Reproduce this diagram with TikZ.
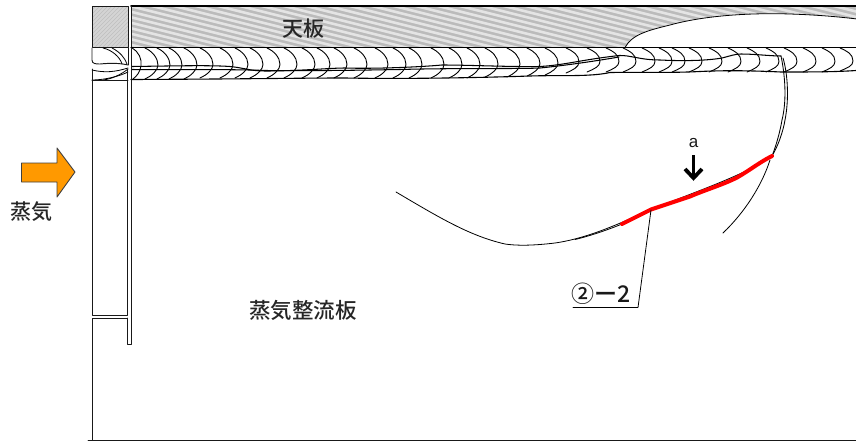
\documentclass[tikz,border=0pt]{standalone}
\usepackage{fontspec}
\setmainfont{Liberation Sans}
\newfontfamily\jpfont[UprightFont=* Medium]{Noto Sans CJK JP}
\definecolor{steamorange}{HTML}{FF9900}
\definecolor{hatchgray}{HTML}{BBBBBB}
\definecolor{hatchlight}{HTML}{E4E4E4}
\tikzset{
  outline/.style={draw=black!90,line width=0.95pt},
  heavy/.style={draw=black,line width=1.8pt},
  thin/.style={draw=black,line width=0.8pt},
  bead/.style={draw=black,line width=0.9pt},
  jlabel/.style={font=\jpfont\fontsize{21}{21}\selectfont,inner sep=0pt,text=black!85},
}
\begin{document}
\begin{tikzpicture}[x=1pt,y=-1pt,line join=round,line cap=round]
\useasboundingbox (0,0) rectangle (856,442);
% hatched top plate
\begin{scope}
 \clip (131,6) rectangle (856,47);
 \fill[hatchgray] (131,6) rectangle (856,47);
 \foreach \k in {-200,-194.5,...,50}{
   \draw[hatchlight,line width=2.6pt,line cap=butt] (120,\k) -- ++(760,190);
 }
\end{scope}
% left block
\begin{scope}
 \clip (92,6) rectangle (128,47);
 \fill[black!17] (92,6) rectangle (128,47);
 \foreach \k in {0,4,...,90}{
   \draw[black!25,line width=0.7pt] ({92+\k-45},47) -- ++(45,-45);
 }
\end{scope}
% white cavity
\fill[white] (625,47.5) .. controls (632,34) and (650,30) .. (670,25) .. controls (710,14) and (760,13) .. (790,14) .. controls (820,15) and (840,17) .. (857,19) -- (857,47.5) -- cycle;
\draw[thin] (625,47.5) .. controls (632,34) and (650,30) .. (670,25) .. controls (710,14) and (760,13) .. (790,14) .. controls (820,15) and (840,17) .. (857,19);
% plates
\draw[outline] (92,47) -- (92,6) -- (128,6) -- (128,47) -- cycle;
\draw[heavy] (856,6) -- (131,6);
\draw[outline] (131,47) -- (131,6);
\draw[heavy,line width=1.4pt] (131,47.5) -- (856,47.5);
% weld beads: upper and lower arcs
\foreach \x/\b in {158/79,170/79,182/79,197/79,213/78,233/78,248/78,263/78,280/78,297/78,315/78,330/78,347/78,367/78,388/78,406/78,422/78,444/78,462/78,480/78,498/77,520/77,540/76,558/75,579/73,600/72,619/72,636/72,655/72,672/72,685/72,702/72,722/72,741/72,760/72,779/72,797/72,816/72,835/72,853/71}{
  \pgfmathsetmacro{\m}{(48+\b)/2+1.5}
  \draw[bead] ({\x-13},48) .. controls ({\x-6},51) and (\x,{\m-7}) .. (\x,\m) .. controls (\x,{\m+5}) and ({\x-6},{\b-3}) .. ({\x-13},\b);
}
\draw[bead] (132,48) .. controls (139,52) and (142,59) .. (141,66) .. controls (140,72) and (137,76) .. (133,79);
% centre lines
\draw[bead,line width=1.05pt] (132,66.5) .. controls (170,66) and (210,65) .. (230,66.5) .. controls (245,68) and (250,71) .. (265,71) .. controls (300,71) and (330,68) .. (345,68) .. controls (375,69) and (420,67) .. (442,65) .. controls (470,65) and (510,67) .. (540,66.5) .. controls (565,65) and (580,60) .. (619,55.5) .. controls (630,55) and (640,60) .. (660,60) .. controls (680,61) and (705,61) .. (722,58) .. controls (730,56) and (735,54) .. (741,54) .. controls (755,54) and (770,56) .. (781,56);
\draw[bead,line width=1.05pt] (132,69.5) .. controls (180,70) and (230,69) .. (265,70.5) .. controls (320,71) and (370,70) .. (400,69.5) .. controls (450,68) and (520,69) .. (540,68) .. controls (560,66) and (590,62) .. (619,57);
% bottom edge of bead
\draw[heavy,line width=1.1pt] (131,79.5) .. controls (250,79) and (300,78) .. (345,78) .. controls (400,79) and (470,78) .. (530,76) .. controls (560,75) and (590,77) .. (610,72.5) .. controls (650,72) and (670,73) .. (700,71.5) .. controls (730,70) and (760,71) .. (781,72) .. controls (810,72) and (835,72) .. (856,70.5);
% left column
\draw[outline] (92,48) -- (92,60) .. controls (92,64) and (96,64) .. (100,64) .. controls (110,63) and (120,63) .. (128,65);
\draw[outline] (128,48) -- (128,65);
\draw[thin] (103,48) .. controls (112,50) and (120,57) .. (122,64);
\draw[thin] (112,48) .. controls (120,52) and (125,58) .. (127,64);
\draw[thin] (92,70) .. controls (105,73) and (115,72) .. (128,68);
\draw[thin] (103,80) .. controls (112,79) and (122,74) .. (128,69);
\draw[thin] (92,80) .. controls (105,80) and (120,76) .. (128,72);
\draw[outline] (92,69) -- (92,315) -- (127,315) -- (127,69);
\draw[outline] (92,80.5) -- (128,80.5);
\draw[outline] (92,440) -- (92,318) -- (127.5,318);
\draw[outline] (127.5,318) -- (127.5,344.5) -- (131.5,344.5) -- (131.5,48);
\draw[outline] (88,440.5) -- (856,440.5);
% crack
\coordinate (crackTop) at (781,56);
\coordinate (crackJoint) at (772,156);
\draw[bead,line width=0.85pt] (crackTop) .. controls (785,75) and (787,100) .. (782,120) .. controls (780,132) and (776,146) .. (crackJoint);
\draw[bead,line width=0.85pt] (783,58) .. controls (788,75) and (789,100) .. (785,120) .. controls (783,132) and (778,146) .. (crackJoint);
\draw[thin] (770,160) .. controls (762,185) and (745,212) .. (723,233);
\draw[thin] (772,156) .. controls (745,175) and (700,190) .. (651,209.5) .. controls (625,221) and (590,238) .. (555,243) .. controls (530,246) and (515,245.5) .. (505,244) .. controls (470,236) and (440,218) .. (396,192);
\draw[thin] (622,224) .. controls (610,229) and (590,236) .. (575,239.5);
% red section
\draw[red,line width=4pt,line cap=round] (622,224) -- (651,209.5) -- (690,196.5) .. controls (705,190) and (725,184) .. (738,177) .. controls (750,170) and (760,162) .. (772,156);
% labels
\node[jlabel] (tenban) at (303.5,29) {天板};
\node[jlabel] (steam) at (31.5,211.5) {蒸気};
\node[jlabel,font=\jpfont\fontsize{21.5}{21.5}\selectfont] (plate) at (303,310) {蒸気整流板};
\node[inner sep=0pt,font=\fontsize{17}{17}\selectfont,text=black!90] (labela) at (693.5,143) {a};
\node[inner sep=0pt,anchor=west,text=black!90,font=\jpfont\fontsize{23}{23}\selectfont] (num) at (571.5,294) {②ー2};
% leader
\coordinate (leadA) at (651,210);
\coordinate (leadB) at (638,307.5);
\coordinate (leadC) at (573,307.5);
\draw[thin] (leadA) -- (leadB) -- (leadC);
% small arrow
\coordinate (arrT) at (693.5,155);
\coordinate (arrB) at (693.5,178);
\draw[black,line width=3.8pt,line cap=butt] (arrT) -- (arrB);
\draw[black,line width=3.8pt,line cap=butt,miter limit=10,line join=miter] (685,169) -- (arrB) -- (702,169);
% steam arrow
\draw[fill=steamorange,draw=black!75,line width=0.9pt] (21.5,163) -- (57,163) -- (57,148) -- (75,172) -- (57,197) -- (57,182) -- (21.5,182) -- cycle;
\end{tikzpicture}
\end{document}
